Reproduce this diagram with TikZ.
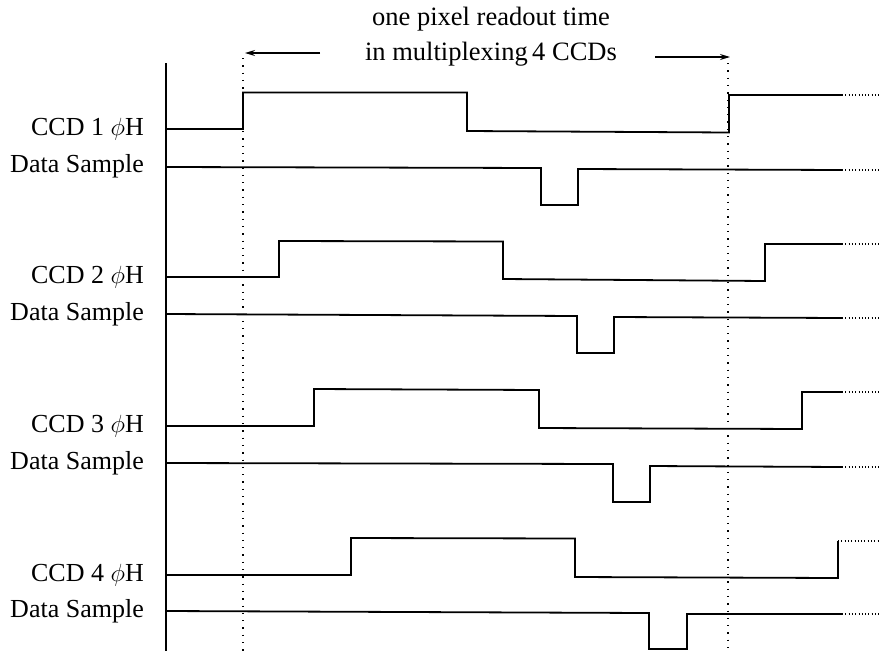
\documentclass[tikz,border=0pt]{standalone}
\usepackage{fontspec}
\setmainfont{Liberation Serif}
\usetikzlibrary{arrows.meta}
\tikzset{
  wave/.style={line width=1.8pt, line join=miter},
  tail/.style={line width=1.1pt, dash pattern=on 1pt off 2.3pt},
  guide/.style={line width=1.3pt, dash pattern=on 1.3pt off 6pt},
  axisline/.style={line width=1.8pt},
  span/.style={line width=1.4pt, -{Stealth[length=10pt,width=6pt]}},
  lbl/.style={anchor=base east, inner sep=0pt, font=\fontsize{26}{30}\selectfont},
  ttl/.style={anchor=base, inner sep=0pt, font=\fontsize{26.5}{30}\selectfont}
}
\begin{document}
\begin{tikzpicture}[x=1pt,y=-1pt]
\useasboundingbox (0,0) rectangle (880,651);
% title
\node[ttl] (t1) at (491,25) {one pixel readout time};
\node[ttl] (t2) at (491,60) {in multiplexing\,4 CCDs};
\coordinate (la0) at (320,53);
\coordinate (la1) at (245,53);
\coordinate (ra0) at (655,57);
\coordinate (ra1) at (730,57);
\draw[span] (la0) -- (la1);
\draw[span] (ra0) -- (ra1);
% axis and guides
\coordinate (ax0) at (166,63);
\coordinate (ax1) at (166,651);
\draw[axisline] (ax0) -- (ax1);
\coordinate (g1a) at (243,58);
\coordinate (g1b) at (243,651);
\coordinate (g2a) at (728,63);
\coordinate (g2b) at (728,651);
\draw[guide] (g1a) -- (g1b);
\draw[guide] (g2a) -- (g2b);
% labels
\node[lbl] (c1) at (144,135) {CCD 1 $\phi$H};
\node[lbl] (d1) at (144,172) {Data Sample};
\node[lbl] (c2) at (144,283) {CCD 2 $\phi$H};
\node[lbl] (d2) at (144,320) {Data Sample};
\node[lbl] (c3) at (144,432) {CCD 3 $\phi$H};
\node[lbl] (d3) at (144,469) {Data Sample};
\node[lbl] (c4) at (144,581) {CCD 4 $\phi$H};
\node[lbl] (d4) at (144,617) {Data Sample};
% CCD 1
\draw[wave] (166,129) -- (243,129) -- (243,92.5) -- (467,92.5) -- (467,131) -- (729,132.5) -- (729,95) -- (842,95);
\draw[tail] (842,95) -- (880,95);
\draw[wave] (166,167) -- (541,168) -- (541,205) -- (578,205) -- (578,169) -- (842,170);
\draw[tail] (842,170) -- (880,170);
% CCD 2
\draw[wave] (166,277) -- (279,277) -- (279,241) -- (503,241.5) -- (503,279) -- (765,281) -- (765,244) -- (842,244);
\draw[tail] (842,244) -- (880,244);
\draw[wave] (166,314) -- (577,316) -- (577,353) -- (614,353) -- (614,317) -- (842,318);
\draw[tail] (842,318) -- (880,318);
% CCD 3
\draw[wave] (166,426) -- (314,426) -- (314,389) -- (539,390) -- (539,428) -- (802,429) -- (802,392) -- (842,392);
\draw[tail] (842,392) -- (880,392);
\draw[wave] (166,463) -- (613,464) -- (613,502) -- (650,502) -- (650,466) -- (842,467);
\draw[tail] (842,467) -- (880,467);
% CCD 4
\draw[wave] (166,575) -- (351,575) -- (351,538) -- (575,538.5) -- (575,577) -- (838,578) -- (838,541);
\draw[tail] (838,541) -- (880,541);
\draw[wave] (166,611) -- (649,613) -- (649,649) -- (687,649) -- (687,614) -- (842,614);
\draw[tail] (842,614) -- (880,614);
\end{tikzpicture}
\end{document}
